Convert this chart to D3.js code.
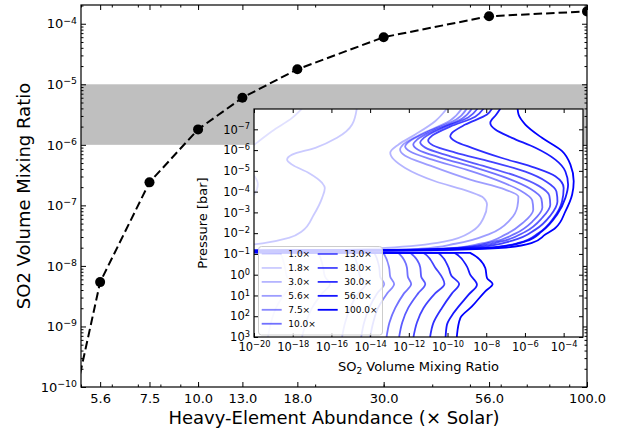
<!DOCTYPE html>
<html>
<head>
<meta charset="utf-8">
<script src="https://cdn.jsdelivr.net/npm/d3@7"></script>
<style>
  body { margin: 0; background: #fff; }
  svg { display: block; font-family: "DejaVu Sans", sans-serif; }
</style>
</head>
<body>
<div id="chart"></div>
<script>
// ---- main panel data ----
const abundance = [3.0, 5.6, 7.5, 10.0, 13.0, 18.0, 30.0, 56.0, 100.0];
const so2Mix    = [5.8e-17, 5.4e-9, 2.4e-7, 1.8e-6, 6.0e-6, 1.77e-5, 6.0e-5, 1.33e-4, 1.6e-4];
const xTickValues = [5.6, 7.5, 10.0, 13.0, 18.0, 30.0, 56.0, 100.0];
const yTickExp = [-10, -9, -8, -7, -6, -5, -4];
const obsBand = [1e-6, 1e-5];

// ---- inset data: [log10 pressure (bar), log10 SO2 mixing ratio] ----
const prof1_0 = [[-8,-17.52],[-7.55,-18.03],[-6.91,-19.07],[-6.42,-19.76],[-6.18,-20.1],[-5.6,-21],[-4.9,-20.1],[-4.35,-19.8],[-3.7,-20.1],[-3.0,-21],[-1.5,-22],[-1.09,-22],[-1.05,-18.65],[-0.35,-18.4],[0.1,-18.3],[0.45,-18.03],[0.9,-18.4],[1.6,-18.86],[2.3,-19.12],[3.0,-19.28]];
const prof1_8 = [[-8,-14.69],[-7.23,-14.93],[-6.59,-15.71],[-6.11,-16.83],[-5.78,-18.03],[-5.54,-18.29],[-5.30,-18.03],[-4.90,-17.17],[-4.42,-16.48],[-4.18,-16.34],[-3.70,-16.48],[-2.89,-16.91],[-2.09,-17.52],[-1.77,-18.20],[-1.53,-19.42],[-1.45,-20.1],[-1.35,-22],[-1.09,-22],[-1.05,-16.69],[-0.35,-16.43],[0.1,-16.33],[0.45,-16.07],[0.9,-16.48],[1.6,-17.0],[2.3,-17.31],[3.0,-17.52]];
const prof3_0 = [[-8,-10.03],[-7.39,-10.64],[-6.75,-11.67],[-6.27,-12.53],[-5.87,-12.96],[-5.14,-12.19],[-4.50,-10.64],[-4.01,-8.91],[-3.70,-8.14],[-3.37,-7.96],[-2.73,-8.14],[-2.09,-8.74],[-1.60,-10.12],[-1.29,-13.22],[-1.18,-16.07],[-1.14,-22],[-1.09,-22],[-1.05,-14.93],[-0.35,-14.62],[0.1,-14.52],[0.45,-14.21],[0.9,-14.62],[1.6,-15.03],[2.3,-15.29],[3.0,-15.45]];
const prof5_6 = [[-8,-9.26],[-7.42,-9.86],[-6.75,-11.41],[-6.27,-12.29],[-6.02,-12.45],[-5.73,-12.19],[-5.25,-10.89],[-4.58,-8.83],[-4.10,-7.02],[-3.76,-6.34],[-3.28,-6.39],[-2.65,-6.76],[-1.98,-7.79],[-1.49,-9.60],[-1.25,-11.41],[-1.19,-12.96],[-1.15,-22],[-1.09,-22],[-1.05,-13.79],[-0.35,-13.53],[0.1,-13.48],[0.45,-13.27],[0.9,-13.64],[1.6,-14.05],[2.3,-14.31],[3.0,-14.46]];
const prof7_5 = [[-8,-9.0],[-7.47,-9.55],[-6.89,-11.0],[-6.41,-11.98],[-6.17,-12.19],[-5.93,-11.93],[-5.54,-10.79],[-5.06,-9.03],[-4.53,-7.38],[-4.05,-6.24],[-3.57,-5.62],[-3.13,-5.57],[-2.51,-6.09],[-1.93,-7.02],[-1.49,-8.31],[-1.28,-9.86],[-1.20,-11.93],[-1.15,-22],[-1.09,-22],[-1.05,-13.33],[-0.35,-13.02],[0.1,-12.96],[0.45,-12.76],[0.9,-13.12],[1.6,-13.59],[2.3,-13.84],[3.0,-14.0]];
const prof10 = [[-8,-8.74],[-7.52,-9.24],[-6.99,-10.58],[-6.51,-11.57],[-6.27,-11.77],[-6.02,-11.52],[-5.64,-10.38],[-5.16,-8.57],[-4.63,-6.86],[-4.14,-5.72],[-3.66,-5.15],[-3.23,-5.10],[-2.60,-5.57],[-1.98,-6.50],[-1.54,-7.79],[-1.30,-9.34],[-1.20,-11.41],[-1.15,-22],[-1.09,-22],[-1.05,-12.55],[-0.35,-12.1],[0.1,-12.05],[0.45,-11.88],[0.9,-12.25],[1.6,-12.7],[2.3,-13.0],[3.0,-13.15]];
const prof13 = [[-8,-8.45],[-7.57,-8.93],[-7.08,-10.22],[-6.60,-11.21],[-6.36,-11.41],[-6.12,-11.15],[-5.73,-9.96],[-5.25,-8.20],[-4.77,-6.50],[-4.29,-5.31],[-3.81,-4.74],[-3.37,-4.69],[-2.75,-5.10],[-2.07,-5.98],[-1.59,-7.27],[-1.33,-8.83],[-1.21,-11.15],[-1.15,-22],[-1.09,-22],[-1.05,-11.93],[-0.35,-11.41],[0.1,-11.36],[0.45,-11.15],[0.9,-11.52],[1.6,-12.03],[2.3,-12.34],[3.0,-12.5]];
const prof18 = [[-8,-8.14],[-7.61,-8.57],[-7.13,-9.86],[-6.70,-10.79],[-6.46,-11.0],[-6.22,-10.74],[-5.88,-9.60],[-5.45,-7.79],[-4.96,-5.98],[-4.48,-4.89],[-4.0,-4.37],[-3.52,-4.32],[-2.84,-4.69],[-2.17,-5.46],[-1.64,-6.65],[-1.33,-8.31],[-1.22,-10.89],[-1.15,-22],[-1.09,-22],[-1.05,-11.24],[-0.35,-10.64],[0.45,-10.16],[0.9,-10.64],[1.6,-11.24],[2.3,-11.58],[3.0,-11.76]];
const prof30 = [[-8,-7.70],[-7.71,-7.96],[-7.23,-9.08],[-6.83,-9.77],[-6.67,-9.86],[-6.43,-9.60],[-6.11,-8.74],[-5.62,-7.19],[-5.14,-5.46],[-4.74,-4.43],[-4.18,-4.0],[-3.54,-4.08],[-2.73,-4.52],[-2.01,-5.29],[-1.53,-6.33],[-1.29,-8.04],[-1.21,-10.8],[-1.15,-22],[-1.09,-22],[-1.05,-10.48],[-0.35,-9.95],[0.05,-9.8],[0.45,-9.4],[0.9,-9.77],[1.6,-10.29],[2.3,-10.72],[3.0,-10.9]];
const prof56 = [[-8,-7.27],[-7.71,-7.48],[-7.31,-7.79],[-6.99,-7.53],[-6.59,-6.67],[-6.11,-5.46],[-5.54,-4.43],[-4.97,-3.91],[-4.34,-3.77],[-3.70,-3.91],[-2.89,-4.34],[-2.09,-5.12],[-1.60,-5.98],[-1.31,-7.53],[-1.22,-10.38],[-1.15,-22],[-1.09,-22],[-1.05,-9.64],[-0.40,-9.0],[0.0,-8.83],[0.48,-8.48],[0.96,-8.91],[1.85,-9.69],[2.41,-10.03],[3.0,-10.1]];
const prof100 = [[-8,-6.38],[-7.71,-6.33],[-7.23,-5.98],[-6.59,-5.12],[-5.95,-4.08],[-5.30,-3.65],[-4.50,-3.48],[-3.86,-3.56],[-3.05,-3.91],[-2.25,-4.43],[-1.93,-4.95],[-1.53,-5.64],[-1.29,-7.19],[-1.20,-9.78],[-1.14,-22],[-1.09,-22],[-1.05,-8.83],[-0.32,-8.05],[0.16,-7.96],[0.45,-7.67],[0.80,-8.05],[1.53,-8.74],[2.09,-9.34],[2.89,-9.51],[3.0,-9.52]];

const profileLabels = ["1.0×", "1.8×", "3.0×", "5.6×", "7.5×", "10.0×", "13.0×", "18.0×", "30.0×", "56.0×", "100.0×"];
const profiles = [prof1_0, prof1_8, prof3_0, prof5_6, prof7_5, prof10, prof13, prof18, prof30, prof56, prof100];
const insetXTickExp = [-20, -18, -16, -14, -12, -10, -8, -6, -4];
const insetYTickExp = [-7, -6, -5, -4, -3, -2, -1, 0, 1, 2, 3];

// ---- setup ----
const W = 620, H = 430;
const svg = d3.select("#chart").append("svg").attr("width", W).attr("height", H);

const box = { x0: 81, x1: 587, y0: 5, y1: 387 };
const x = d3.scaleLog().domain([5, 100]).range([box.x0, box.x1]);
const y = d3.scaleLog().domain([1e-10, 2.04e-4]).range([box.y1, box.y0]);

const minus = s => String(s).replace("-", "\u2212");
const isPow10 = v => Math.abs(Math.log10(v) - Math.round(Math.log10(v))) < 1e-6;

// exposant façon matplotlib : 10^e
function powLabel(sel, size) {
    sel.each(function(d) {
        const t = d3.select(this);
        const e = Math.round(Math.log10(d));
        t.text(null);
        t.append("tspan").text("10");
        t.append("tspan").attr("dy", -0.36 * size).style("font-size", (0.72 * size) + "px").text(minus(e));
    });
}

function tickAxis(parent, axis, tr, size) {
    const g = parent.append("g").attr("transform", tr).call(axis);
    g.select(".domain").remove();
    g.attr("font-family", "DejaVu Sans, sans-serif").attr("font-size", size || 10);
    g.selectAll(".tick line").attr("stroke", "#000").attr("stroke-width", 1);
    g.selectAll(".tick text").attr("fill", "#000");
    return g;
}

// clips
const defs = svg.append("defs");
defs.append("clipPath").attr("id", "clip-main").append("rect")
    .attr("x", box.x0).attr("y", box.y0).attr("width", box.x1 - box.x0).attr("height", box.y1 - box.y0);

// ---- main panel ----
const main = svg.append("g");

main.append("rect")
    .attr("x", box.x0).attr("width", box.x1 - box.x0)
    .attr("y", y(obsBand[1])).attr("height", y(obsBand[0]) - y(obsBand[1]))
    .attr("fill", "#bfbfbf");

const pts = abundance.map((a, i) => ({ a: a, v: so2Mix[i] }));
const plotArea = main.append("g").attr("clip-path", "url(#clip-main)");

plotArea.append("path")
    .datum(pts)
    .attr("d", d3.line().x(d => x(d.a)).y(d => y(d.v)))
    .attr("fill", "none")
    .attr("stroke", "#000")
    .attr("stroke-width", 2)
    .attr("stroke-dasharray", "8.5,4");

plotArea.selectAll(".dot")
    .data(pts)
    .enter()
    .append("circle")
    .attr("class", "dot")
    .attr("cx", d => x(d.a))
    .attr("cy", d => y(d.v))
    .attr("r", 5)
    .attr("fill", "#000");

// ticks (all inward)
const xMinor = x.ticks();
const yMajor = yTickExp.map(e => Math.pow(10, e));
const yMinor = y.ticks().filter(v => !isPow10(v));

tickAxis(main, d3.axisBottom(x).tickValues(xMinor).tickSize(-2.5).tickFormat(""), `translate(0,${box.y1})`);
tickAxis(main, d3.axisTop(x).tickValues(xMinor).tickSize(-2.5).tickFormat(""), `translate(0,${box.y0})`);
tickAxis(main, d3.axisBottom(x).tickValues(xTickValues).tickSize(-5).tickPadding(7).tickFormat(d3.format(".1f")),
    `translate(0,${box.y1})`, 13);
tickAxis(main, d3.axisTop(x).tickValues(xTickValues).tickSize(-5).tickFormat(""), `translate(0,${box.y0})`);

tickAxis(main, d3.axisLeft(y).tickValues(yMinor).tickSize(-2.5).tickFormat(""), `translate(${box.x0},0)`);
tickAxis(main, d3.axisRight(y).tickValues(yMinor).tickSize(-2.5).tickFormat(""), `translate(${box.x1},0)`);
const yAxisG = tickAxis(main, d3.axisLeft(y).tickValues(yMajor).tickSize(-5).tickPadding(4),
    `translate(${box.x0},0)`, 13);
yAxisG.selectAll(".tick text").call(powLabel, 13);
tickAxis(main, d3.axisRight(y).tickValues(yMajor).tickSize(-5).tickFormat(""), `translate(${box.x1},0)`);

main.append("rect")
    .attr("x", box.x0).attr("y", box.y0)
    .attr("width", box.x1 - box.x0).attr("height", box.y1 - box.y0)
    .attr("fill", "none").attr("stroke", "#000").attr("stroke-width", 1.2);

main.append("text")
    .attr("x", (box.x0 + box.x1) / 2)
    .attr("y", 424)
    .attr("text-anchor", "middle")
    .style("font-size", "18px")
    .text("Heavy-Element Abundance (× Solar)");

main.append("text")
    .attr("transform", `translate(30,${(box.y0 + box.y1) / 2}) rotate(-90)`)
    .attr("text-anchor", "middle")
    .style("font-size", "18px")
    .text("SO2 Volume Mixing Ratio");

// ---- inset ----
const ib = { x0: 254, x1: 583, y0: 109, y1: 337 };
const ix = d3.scaleLog().domain([1e-20, 1e-3]).range([ib.x0, ib.x1]);
const iy = d3.scaleLog().domain([1.05e-8, 1e3]).range([ib.y0, ib.y1]);
const alpha = d3.scaleLinear().domain([0, profiles.length - 1]).range([0.12, 1]);

defs.append("clipPath").attr("id", "clip-inset").append("rect")
    .attr("x", ib.x0).attr("y", ib.y0).attr("width", ib.x1 - ib.x0).attr("height", ib.y1 - ib.y0);

const inset = svg.append("g");
inset.append("rect")
    .attr("x", ib.x0).attr("y", ib.y0)
    .attr("width", ib.x1 - ib.x0).attr("height", ib.y1 - ib.y0)
    .attr("fill", "#fff");

const profLine = d3.line()
    .x(d => ix(Math.pow(10, d[1])))
    .y(d => iy(Math.pow(10, d[0])))
    .curve(d3.curveMonotoneY);

inset.append("g")
    .attr("clip-path", "url(#clip-inset)")
    .selectAll(".profile")
    .data(profiles)
    .enter()
    .append("path")
    .attr("class", "profile")
    .attr("d", d => profLine(d))
    .attr("fill", "none")
    .attr("stroke", "#0000ff")
    .attr("stroke-opacity", (d, i) => alpha(i))
    .attr("stroke-width", 1.8);

const ixMajor = insetXTickExp.map(e => Math.pow(10, e));
const iyMajor = insetYTickExp.map(e => Math.pow(10, e));

const ixG = tickAxis(inset, d3.axisBottom(ix).tickValues(ixMajor).tickSize(-4).tickPadding(6),
    `translate(0,${ib.y1})`, 11.5);
ixG.selectAll(".tick text").call(powLabel, 11.5);
tickAxis(inset, d3.axisTop(ix).tickValues(ixMajor).tickSize(-4).tickFormat(""), `translate(0,${ib.y0})`);
const iyG = tickAxis(inset, d3.axisLeft(iy).tickValues(iyMajor).tickSize(-4).tickPadding(4),
    `translate(${ib.x0},0)`, 11.5);
iyG.selectAll(".tick text").call(powLabel, 11.5);
tickAxis(inset, d3.axisRight(iy).tickValues(iyMajor).tickSize(-4).tickFormat(""), `translate(${ib.x1},0)`);

inset.append("rect")
    .attr("x", ib.x0).attr("y", ib.y0)
    .attr("width", ib.x1 - ib.x0).attr("height", ib.y1 - ib.y0)
    .attr("fill", "none").attr("stroke", "#000").attr("stroke-width", 1.2);

const ixLabel = inset.append("text")
    .attr("x", (ib.x0 + ib.x1) / 2)
    .attr("y", 371)
    .attr("text-anchor", "middle")
    .style("font-size", "13px");
ixLabel.append("tspan").text("SO");
ixLabel.append("tspan").attr("dy", 3).style("font-size", "9px").text("2");
ixLabel.append("tspan").attr("dy", -3).text(" Volume Mixing Ratio");

inset.append("text")
    .attr("transform", `translate(207,${(ib.y0 + ib.y1) / 2}) rotate(-90)`)
    .attr("text-anchor", "middle")
    .style("font-size", "13px")
    .text("Pressure [bar]");

// légende à deux colonnes
const legend = inset.append("g");
legend.append("rect")
    .attr("x", 258.5).attr("y", 246.5)
    .attr("width", 124).attr("height", 88.5)
    .attr("rx", 3)
    .attr("fill", "#fff").attr("fill-opacity", 0.8)
    .attr("stroke", "#cccccc").attr("stroke-width", 1);

const legendItems = legend.selectAll(".legend-item")
    .data(profileLabels)
    .enter()
    .append("g")
    .attr("class", "legend-item")
    .attr("transform", (d, i) => `translate(${i < 6 ? 261.7 : 317.7},${254 + (i % 6) * 13.95})`);

legendItems.append("line")
    .attr("x1", 0).attr("x2", 20)
    .attr("stroke", "#0000ff")
    .attr("stroke-opacity", (d, i) => alpha(i))
    .attr("stroke-width", 1.8);

legendItems.append("text")
    .attr("x", 26.6)
    .attr("dy", "0.35em")
    .style("font-size", "9px")
    .text(d => d);
</script>
</body>
</html>
